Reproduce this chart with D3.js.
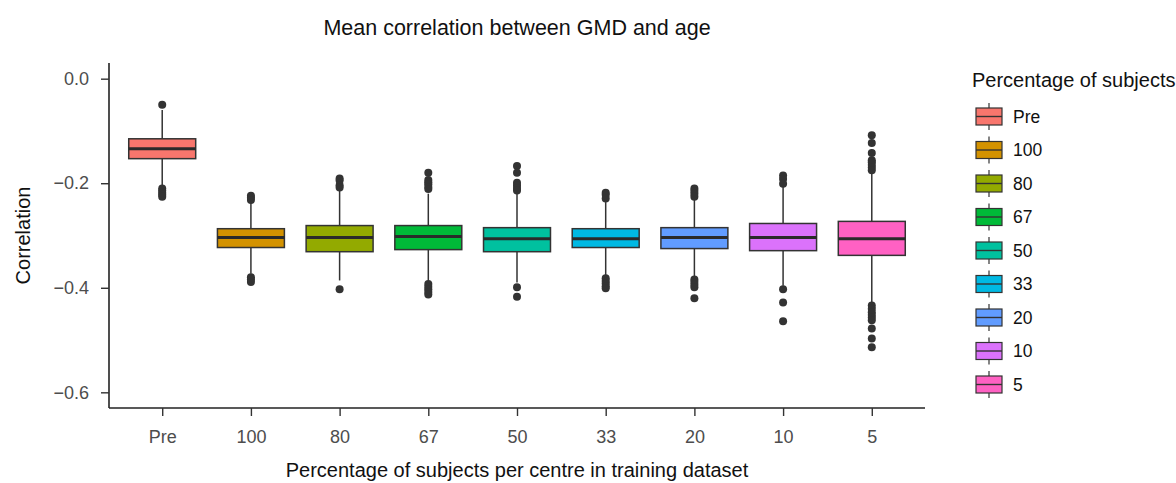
<!DOCTYPE html>
<html>
<head>
<meta charset="utf-8">
<script src="https://cdn.jsdelivr.net/npm/d3@7"></script>
<style>
  body { margin: 0; background: #fff; }
  svg { font-family: "Liberation Sans", Arial, sans-serif; }
</style>
</head>
<body>
<div id="chart"></div>
<script>
// values
const categories = ["Pre", "100", "80", "67", "50", "33", "20", "10", "5"];
const colors = ["#F8766D", "#D39200", "#93AA00", "#00BA38", "#00C19F", "#00B9E3", "#619CFF", "#DB72FB", "#FF61C3"];
const q1 = [-0.153, -0.323, -0.331, -0.327, -0.331, -0.323, -0.325, -0.329, -0.338];
const medians = [-0.134, -0.304, -0.304, -0.302, -0.306, -0.306, -0.304, -0.304, -0.306];
const q3 = [-0.115, -0.287, -0.281, -0.281, -0.285, -0.287, -0.285, -0.277, -0.273];
const whiskerLow = [-0.205, -0.373, -0.386, -0.388, -0.390, -0.376, -0.380, -0.396, -0.430];
const whiskerHigh = [-0.060, -0.238, -0.210, -0.220, -0.218, -0.236, -0.232, -0.205, -0.180];
const outliers = [
  [-0.050, -0.210, -0.214, -0.218, -0.222, -0.226],
  [-0.224, -0.228, -0.232, -0.380, -0.384, -0.389],
  [-0.191, -0.195, -0.204, -0.208, -0.403],
  [-0.180, -0.194, -0.198, -0.202, -0.207, -0.211, -0.393, -0.398, -0.403, -0.408, -0.413],
  [-0.167, -0.180, -0.199, -0.204, -0.209, -0.214, -0.399, -0.417],
  [-0.218, -0.222, -0.229, -0.382, -0.387, -0.392, -0.397, -0.401],
  [-0.210, -0.215, -0.220, -0.226, -0.384, -0.389, -0.394, -0.399, -0.420],
  [-0.185, -0.192, -0.201, -0.403, -0.428, -0.464],
  [-0.108, -0.123, -0.142, -0.156, -0.160, -0.165, -0.170, -0.175, -0.434, -0.440, -0.447, -0.452, -0.457, -0.462, -0.478, -0.497, -0.514]
];
const yTicks = [0, -0.2, -0.4, -0.6];

const W = 1176, H = 483;
const margin = {top: 63, right: 251, bottom: 75, left: 109};
const width = W - margin.left - margin.right,
      height = H - margin.top - margin.bottom;

const svg = d3.select("#chart").append("svg")
    .attr("width", W)
    .attr("height", H);

const g = svg.append("g")
    .attr("transform", `translate(${margin.left},${margin.top})`);

// x: discrete with 0.6 expansion each side, like ggplot
const x = d3.scalePoint()
    .domain(categories)
    .range([0, width])
    .padding(0.6);
const step = x.step();
const boxW = step * 0.755;

const y = d3.scaleLinear()
    .domain([-0.63, 0.03])
    .range([height, 0]);

// axes
const yAxis = g.append("g")
    .call(d3.axisLeft(y).tickValues(yTicks).tickSize(8).tickPadding(12).tickFormat(d3.format(".1f")));
const xAxis = g.append("g")
    .attr("transform", `translate(0,${height})`)
    .call(d3.axisBottom(x).tickSize(8).tickPadding(14));

[yAxis, xAxis].forEach(a => {
  a.select(".domain").attr("stroke", "#222").attr("stroke-width", 1.6);
  a.selectAll(".tick line").attr("stroke", "#333").attr("stroke-width", 1.4);
  a.selectAll(".tick text").attr("fill", "#4d4d4d").style("font-size", "18px");
});
yAxis.select(".domain").attr("d", `M0,${height}V0`);
xAxis.select(".domain").attr("d", `M0,0H${width}`);

// boxes
const boxes = g.selectAll(".box")
    .data(categories)
    .enter().append("g")
    .attr("class", "box")
    .attr("transform", d => `translate(${x(d)},0)`);

boxes.append("line")
    .attr("y1", (d, i) => y(whiskerHigh[i]))
    .attr("y2", (d, i) => y(q3[i]))
    .attr("stroke", "#333").attr("stroke-width", 1.5);
boxes.append("line")
    .attr("y1", (d, i) => y(q1[i]))
    .attr("y2", (d, i) => y(whiskerLow[i]))
    .attr("stroke", "#333").attr("stroke-width", 1.5);

boxes.append("rect")
    .attr("x", -boxW / 2)
    .attr("width", boxW)
    .attr("y", (d, i) => y(q3[i]))
    .attr("height", (d, i) => y(q1[i]) - y(q3[i]))
    .attr("fill", (d, i) => colors[i])
    .attr("stroke", "#333")
    .attr("stroke-width", 1.5);

boxes.append("line")
    .attr("x1", -boxW / 2).attr("x2", boxW / 2)
    .attr("y1", (d, i) => y(medians[i]))
    .attr("y2", (d, i) => y(medians[i]))
    .attr("stroke", "#2a2a2a").attr("stroke-width", 3);

boxes.each(function(d, i) {
  d3.select(this).selectAll("circle")
    .data(outliers[i])
    .enter().append("circle")
    .attr("cx", 0)
    .attr("cy", v => y(v))
    .attr("r", 4)
    .attr("fill", "#333");
});

// titles
svg.append("text")
    .attr("x", margin.left + width / 2)
    .attr("y", 35)
    .attr("text-anchor", "middle")
    .style("font-size", "21.5px")
    .attr("fill", "#111")
    .text("Mean correlation between GMD and age");

svg.append("text")
    .attr("x", margin.left + width / 2)
    .attr("y", 477)
    .attr("text-anchor", "middle")
    .style("font-size", "20px")
    .attr("fill", "#111")
    .text("Percentage of subjects per centre in training dataset");

svg.append("text")
    .attr("transform", `translate(30,${margin.top + y(-0.3)}) rotate(-90)`)
    .attr("text-anchor", "middle")
    .style("font-size", "20px")
    .attr("fill", "#111")
    .text("Correlation");

// legend
const legend = svg.append("g").attr("transform", "translate(972,0)");
legend.append("text")
    .attr("x", 0)
    .attr("y", 87)
    .style("font-size", "20px")
    .attr("fill", "#111")
    .text("Percentage of subjects");

const keyY = d3.scalePoint().domain(categories).range([116, 384]);
const items = legend.selectAll(".key")
    .data(categories)
    .enter().append("g")
    .attr("class", "key")
    .attr("transform", d => `translate(0,${keyY(d)})`);

items.append("line")
    .attr("x1", 17).attr("x2", 17)
    .attr("y1", -13).attr("y2", 14)
    .attr("stroke", "#333").attr("stroke-width", 1.2);
items.append("rect")
    .attr("x", 4).attr("y", -8)
    .attr("width", 26).attr("height", 17)
    .attr("fill", (d, i) => colors[i])
    .attr("stroke", "#333").attr("stroke-width", 1.2);
items.append("line")
    .attr("x1", 4).attr("x2", 30)
    .attr("y1", 0.5).attr("y2", 0.5)
    .attr("stroke", "#333").attr("stroke-width", 1.4);
items.append("text")
    .attr("x", 41)
    .attr("y", 6.5)
    .style("font-size", "17.5px")
    .attr("fill", "#111")
    .text(d => d);
</script>
</body>
</html>
